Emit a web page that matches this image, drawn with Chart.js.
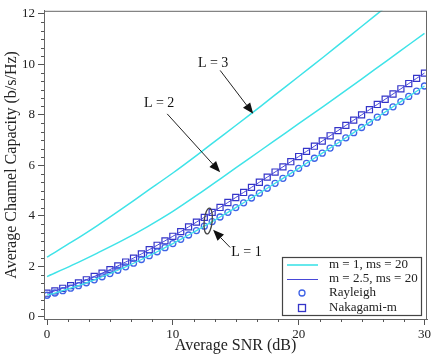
<!DOCTYPE html>
<html>
<head>
<meta charset="utf-8">
<script src="https://cdn.jsdelivr.net/npm/chart.js@4.4.1/dist/chart.umd.min.js"></script>
<style>
html, body { margin: 0; padding: 0; background: #fff; }
</style>
</head>
<body>
<canvas id="myChart" width="435" height="354"></canvas>
<script>
// SNR grid for the analytic curves (dB)
const snrLine = [0, 2, 4, 6, 8, 10, 12, 14, 16, 18, 20, 22, 24, 26, 28, 30];
const capL3 = [2.37, 2.98, 3.62, 4.30, 5.00, 5.70, 6.44, 7.20, 7.96, 8.74, 9.52, 10.30, 11.10, 11.90, 12.70, 13.50];
const capL2 = [1.60, 2.05, 2.53, 3.03, 3.58, 4.18, 4.85, 5.55, 6.25, 6.95, 7.65, 8.35, 9.06, 9.78, 10.50, 11.23];

// SNR grid of the markers (dB)
const snrMarker = [0, 0.625, 1.25, 1.875, 2.5, 3.125, 3.75, 4.375, 5, 5.625, 6.25, 6.875, 7.5, 8.125, 8.75, 9.375,
    10, 10.625, 11.25, 11.875, 12.5, 13.125, 13.75, 14.375, 15, 15.625, 16.25, 16.875, 17.5, 18.125, 18.75, 19.375,
    20, 20.625, 21.25, 21.875, 22.5, 23.125, 23.75, 24.375, 25, 25.625, 26.25, 26.875, 27.5, 28.125, 28.75, 29.375, 30];
const capRayleigh = [0.861, 0.949, 1.042, 1.139, 1.241, 1.354, 1.471, 1.592, 1.717, 1.850, 1.987, 2.128, 2.275, 2.427, 2.583, 2.743,
    2.906, 3.074, 3.245, 3.419, 3.596, 3.776, 3.958, 4.143, 4.330, 4.519, 4.710, 4.902, 5.096, 5.291, 5.487, 5.685,
    5.884, 6.084, 6.284, 6.485, 6.687, 6.889, 7.092, 7.296, 7.500, 7.704, 7.909, 8.114, 8.320, 8.526, 8.732, 8.938, 9.144];
const capNakagami = [0.940, 1.035, 1.135, 1.240, 1.350, 1.473, 1.602, 1.736, 1.875, 2.022, 2.174, 2.332, 2.495, 2.664, 2.837, 3.014,
    3.195, 3.379, 3.566, 3.755, 3.945, 4.139, 4.335, 4.532, 4.730, 4.930, 5.131, 5.333, 5.535, 5.738, 5.942, 6.146,
    6.350, 6.555, 6.760, 6.966, 7.172, 7.378, 7.584, 7.791, 7.998, 8.205, 8.412, 8.619, 8.826, 9.033, 9.240, 9.447, 9.655];

const xTicks = [0, 10, 20, 30];
const yTicks = [0, 2, 4, 6, 8, 10, 12];
const legendLabels = ['m = 1, ms = 20', 'm = 2.5, ms = 20', 'Rayleigh', 'Nakagami-m'];

const CYAN = '#3fe3e8';
const BLUE_LINE = '#4848d8';
const BLUE_CIRC = '#3f63e6';
const BLUE_SQ = '#3434c8';
const SERIF = '"Liberation Serif", "Times New Roman", serif';

function pts(xs, ys) {
    return xs.map((x, i) => ({ x: x, y: ys[i] }));
}

// annotations in data coordinates
const notes = [
    { text: 'L = 3', at: [13.2, 10.04], from: [13.76, 9.76], to: [16.39, 8.04] },
    { text: 'L = 2', at: [8.91, 8.47], from: [9.55, 8.04], to: [13.76, 5.73] },
    { text: 'L = 1', at: [15.85, 2.55], from: [14.56, 2.75], to: [13.2, 3.45] }
];

function arrow(ctx, x1, y1, x2, y2) {
    const a = Math.atan2(y2 - y1, x2 - x1);
    const len = 11, hw = 4.5;
    const bx = x2 - len * Math.cos(a), by = y2 - len * Math.sin(a);
    ctx.beginPath();
    ctx.moveTo(x1, y1);
    ctx.lineTo(bx, by);
    ctx.stroke();
    ctx.beginPath();
    ctx.moveTo(x2, y2);
    ctx.lineTo(bx + hw * Math.sin(a), by - hw * Math.cos(a));
    ctx.lineTo(bx - hw * Math.sin(a), by + hw * Math.cos(a));
    ctx.closePath();
    ctx.fill();
}

const extras = {
    id: 'extras',
    afterDraw(chart) {
        const ctx = chart.ctx;
        const a = chart.chartArea;
        const xs = chart.scales.x, ys = chart.scales.y;
        ctx.save();

        // frame
        ctx.strokeStyle = '#666';
        ctx.lineWidth = 1;
        ctx.strokeRect(a.left + 0.5, a.top + 0.5, a.right - a.left - 1, a.bottom - a.top);

        // minor ticks (6 subdivisions per major step)
        ctx.strokeStyle = '#555';
        ctx.beginPath();
        for (let i = 0; i <= 36; i++) {
            if (i % 6 === 0) continue;
            const py = Math.round(ys.getPixelForValue(i * 2 / 6)) + 0.5;
            ctx.moveTo(a.left - 3, py);
            ctx.lineTo(a.left, py);
        }
        for (let i = 0; i <= 18; i++) {
            if (i % 6 === 0) continue;
            const px = Math.round(xs.getPixelForValue(i * 10 / 6)) + 0.5;
            ctx.moveTo(px, a.bottom);
            ctx.lineTo(px, a.bottom + 3);
        }
        ctx.stroke();

        // annotations
        ctx.fillStyle = '#111';
        ctx.strokeStyle = '#222';
        ctx.lineWidth = 1;
        ctx.font = '14px ' + SERIF;
        ctx.textAlign = 'center';
        ctx.textBaseline = 'middle';
        notes.forEach(n => {
            ctx.fillText(n.text, xs.getPixelForValue(n.at[0]), ys.getPixelForValue(n.at[1]));
            arrow(ctx, xs.getPixelForValue(n.from[0]), ys.getPixelForValue(n.from[1]),
                xs.getPixelForValue(n.to[0]), ys.getPixelForValue(n.to[1]));
        });
        ctx.strokeStyle = '#444';
        ctx.lineWidth = 1.3;
        ctx.beginPath();
        ctx.ellipse(xs.getPixelForValue(12.81), ys.getPixelForValue(3.8), 4, 13, 0.1, 0, Math.PI * 2);
        ctx.stroke();

        // legend box
        const lx = a.right - 145, ly = a.bottom - 62;
        ctx.fillStyle = '#fff';
        ctx.fillRect(lx, ly, 139, 58);
        ctx.strokeStyle = '#444';
        ctx.lineWidth = 1.2;
        ctx.strokeRect(lx + 0.5, ly + 0.5, 139, 58);
        const rows = [ly + 8, ly + 22, ly + 36, ly + 51];
        ctx.lineWidth = 1.6;
        ctx.strokeStyle = CYAN;
        ctx.beginPath(); ctx.moveTo(lx + 5, rows[0]); ctx.lineTo(lx + 36, rows[0]); ctx.stroke();
        ctx.lineWidth = 1;
        ctx.strokeStyle = BLUE_LINE;
        ctx.beginPath(); ctx.moveTo(lx + 5, rows[1] + 0.5); ctx.lineTo(lx + 36, rows[1] + 0.5); ctx.stroke();
        ctx.lineWidth = 1.3;
        ctx.strokeStyle = BLUE_CIRC;
        ctx.beginPath(); ctx.arc(lx + 20, rows[2], 3, 0, Math.PI * 2); ctx.stroke();
        ctx.strokeStyle = BLUE_SQ;
        ctx.strokeRect(lx + 16.5, rows[3] - 3.5, 7, 7);
        ctx.fillStyle = '#222';
        ctx.font = '13px ' + SERIF;
        ctx.textAlign = 'left';
        legendLabels.forEach((t, i) => ctx.fillText(t, lx + 47, rows[i]));

        ctx.restore();
    }
};

const ctx = document.getElementById('myChart');
new Chart(ctx, {
    type: 'line',
    data: {
        datasets: [
            { data: pts(snrLine, capL3), borderColor: CYAN, borderWidth: 1.5, pointRadius: 0, tension: 0.3 },
            { data: pts(snrLine, capL2), borderColor: CYAN, borderWidth: 1.5, pointRadius: 0, tension: 0.3 },
            { data: pts(snrMarker, capRayleigh), borderColor: CYAN, borderWidth: 1.3, pointRadius: 0 },
            { data: pts(snrMarker, capNakagami), borderColor: BLUE_LINE, borderWidth: 1, pointRadius: 0 },
            {
                data: pts(snrMarker, capRayleigh), showLine: false, pointStyle: 'circle', pointRadius: 3,
                pointBorderWidth: 1.3, pointBorderColor: BLUE_CIRC, pointBackgroundColor: 'rgba(0,0,0,0)'
            },
            {
                data: pts(snrMarker, capNakagami), showLine: false, pointStyle: 'rect', pointRadius: 4.3,
                pointBorderWidth: 1.2, pointBorderColor: BLUE_SQ, pointBackgroundColor: 'rgba(0,0,0,0)'
            }
        ]
    },
    options: {
        responsive: false,
        animation: false,
        devicePixelRatio: 1,
        layout: { padding: { top: 8, right: 8, left: 0, bottom: 0 } },
        plugins: { legend: { display: false }, tooltip: { enabled: false } },
        scales: {
            x: {
                type: 'linear',
                min: -0.24,
                max: 30.2,
                afterBuildTicks: s => { s.ticks = xTicks.map(v => ({ value: v })); },
                afterFit: s => { s.height = 35; },
                ticks: { color: '#222', font: { family: SERIF, size: 13 }, padding: 2, maxRotation: 0, autoSkip: false },
                grid: { drawOnChartArea: false, tickLength: 6, color: '#555' },
                border: { color: '#666' },
                title: {
                    display: true, text: 'Average SNR (dB)', color: '#222',
                    font: { family: SERIF, size: 16, lineHeight: 1 }, padding: { top: 0, bottom: 0 }
                }
            },
            y: {
                min: -0.08,
                max: 12.12,
                afterBuildTicks: s => { s.ticks = yTicks.map(v => ({ value: v })); },
                afterFit: s => { s.width = 44; },
                ticks: { color: '#222', font: { family: SERIF, size: 13 }, padding: 3 },
                grid: { drawOnChartArea: false, tickLength: 6, color: '#555' },
                border: { color: '#666' },
                title: {
                    display: true, text: 'Average Channel Capacity (b/s/Hz)', color: '#222',
                    font: { family: SERIF, size: 16, lineHeight: 1 }, padding: { top: 4, bottom: 0 }
                }
            }
        }
    },
    plugins: [extras]
});
</script>
</body>
</html>
